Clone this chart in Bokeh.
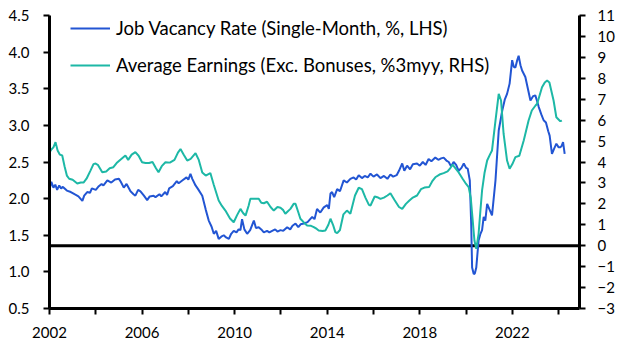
from bokeh.plotting import figure
from bokeh.models import (Range1d, LinearAxis, FixedTicker, NumeralTickFormatter,
                          Span, Legend, LegendItem, ColumnDataSource)
from bokeh.embed import file_html
from bokeh.resources import INLINE

# Job vacancy rate (single-month, %, LHS) — decimal years
vac_x = [2002.0, 2002.08, 2002.17, 2002.25, 2002.33, 2002.42, 2002.5, 2002.58, 2002.75, 2002.92,
         2003.08, 2003.25, 2003.42, 2003.5, 2003.63, 2003.75, 2003.83, 2004.0, 2004.13, 2004.25,
         2004.33, 2004.5, 2004.67, 2004.83, 2005.0, 2005.08, 2005.21, 2005.33, 2005.5, 2005.63,
         2005.71, 2005.83, 2005.93, 2006.08, 2006.22, 2006.33, 2006.5, 2006.58, 2006.75, 2006.83,
         2007.0, 2007.08, 2007.17, 2007.33, 2007.5, 2007.58, 2007.75, 2007.92, 2008.0, 2008.09,
         2008.17, 2008.31, 2008.42, 2008.6, 2008.75, 2008.88, 2009.0, 2009.1, 2009.2, 2009.31,
         2009.42, 2009.53, 2009.63, 2009.75, 2009.85, 2009.96, 2010.08, 2010.17, 2010.25, 2010.32,
         2010.42, 2010.54, 2010.67, 2010.83, 2010.92, 2011.04, 2011.15, 2011.26, 2011.4, 2011.5,
         2011.62, 2011.75, 2011.85, 2011.98, 2012.1, 2012.27, 2012.4, 2012.5, 2012.63, 2012.75,
         2012.85, 2012.99, 2013.15, 2013.35, 2013.45, 2013.56, 2013.7, 2013.85, 2014.0, 2014.07,
         2014.14, 2014.21, 2014.3, 2014.43, 2014.55, 2014.71, 2014.85, 2015.0, 2015.14, 2015.25,
         2015.36, 2015.5, 2015.62, 2015.75, 2015.87, 2016.0, 2016.15, 2016.3, 2016.45, 2016.6,
         2016.73, 2016.85, 2017.0, 2017.1, 2017.24, 2017.33, 2017.45, 2017.58, 2017.7, 2017.88,
         2018.0, 2018.13, 2018.25, 2018.38, 2018.5, 2018.67, 2018.8, 2018.92, 2019.03, 2019.15,
         2019.25, 2019.35, 2019.46, 2019.57, 2019.68, 2019.8, 2019.9, 2020.0, 2020.07, 2020.16,
         2020.22, 2020.26, 2020.33, 2020.38, 2020.44, 2020.54, 2020.62, 2020.69, 2020.76, 2020.83,
         2020.91, 2021.0, 2021.12, 2021.27, 2021.41, 2021.56, 2021.67, 2021.77, 2021.88, 2021.99,
         2022.06, 2022.13, 2022.2, 2022.27, 2022.35, 2022.42, 2022.56, 2022.67, 2022.78, 2022.9,
         2022.99, 2023.07, 2023.14, 2023.25, 2023.35, 2023.45, 2023.55, 2023.61, 2023.71, 2023.8,
         2023.9, 2024.0, 2024.07, 2024.13, 2024.19, 2024.26]
vac_y = [2.12, 2.23, 2.15, 2.19, 2.12, 2.18, 2.14, 2.16, 2.11, 2.09,
         2.06, 2.03, 1.97, 2.04, 2.09, 2.08, 2.14, 2.12, 2.17, 2.20,
         2.18, 2.25, 2.22, 2.26, 2.27, 2.23, 2.15, 2.20, 2.10, 2.06,
         2.04, 2.12, 2.10, 2.04, 1.98, 2.03, 2.04, 2.02, 2.06, 2.03,
         2.09, 2.05, 2.14, 2.17, 2.24, 2.21, 2.25, 2.29, 2.26, 2.34,
         2.27, 2.18, 2.13, 2.04, 1.85, 1.70, 1.62, 1.52, 1.56, 1.45,
         1.48, 1.50, 1.47, 1.45, 1.52, 1.56, 1.54, 1.58, 1.57, 1.72,
         1.58, 1.52, 1.57, 1.70, 1.60, 1.61, 1.58, 1.54, 1.56, 1.54,
         1.56, 1.58, 1.55, 1.57, 1.56, 1.61, 1.58, 1.63, 1.66, 1.61,
         1.65, 1.66, 1.68, 1.75, 1.72, 1.86, 1.81, 1.88, 1.91, 1.86,
         2.07, 2.09, 2.02, 2.13, 2.10, 2.25, 2.22, 2.27, 2.29, 2.26,
         2.32, 2.28, 2.31, 2.29, 2.34, 2.30, 2.33, 2.28, 2.31, 2.27,
         2.33, 2.30, 2.32, 2.38, 2.48, 2.38, 2.45, 2.40, 2.47, 2.48,
         2.45, 2.50, 2.46, 2.54, 2.51, 2.56, 2.53, 2.55, 2.56, 2.52,
         2.50, 2.44, 2.50, 2.46, 2.38, 2.42, 2.48, 2.42, 2.41, 2.25,
         1.66, 1.06, 0.97, 0.98, 1.06, 1.43, 1.52, 1.57, 1.75, 1.70,
         1.93, 1.86, 1.77, 2.25, 2.93, 3.20, 3.35, 3.43, 3.57, 3.89,
         3.80, 3.79, 3.88, 3.95, 3.82, 3.75, 3.66, 3.50, 3.34, 3.40,
         3.41, 3.33, 3.25, 3.15, 3.07, 3.04, 2.92, 2.86, 2.61, 2.68,
         2.75, 2.70, 2.70, 2.72, 2.77, 2.61]

# Average earnings (exc. bonuses, %3myy, RHS)
earn_x = [2002.0, 2002.08, 2002.17, 2002.26, 2002.35, 2002.45, 2002.55, 2002.65, 2002.75, 2002.85,
          2003.0, 2003.2, 2003.35, 2003.47, 2003.6, 2003.77, 2003.9, 2003.99, 2004.1, 2004.28,
          2004.45, 2004.6, 2004.76, 2004.9, 2005.05, 2005.28, 2005.4, 2005.55, 2005.71, 2005.85,
          2006.0, 2006.15, 2006.3, 2006.45, 2006.6, 2006.71, 2006.85, 2007.01, 2007.2, 2007.4,
          2007.55, 2007.66, 2007.8, 2007.95, 2008.1, 2008.31, 2008.45, 2008.6, 2008.75, 2008.95,
          2009.1, 2009.31, 2009.45, 2009.6, 2009.8, 2009.96, 2010.1, 2010.25, 2010.37, 2010.47,
          2010.6, 2010.68, 2010.85, 2011.04, 2011.15, 2011.26, 2011.4, 2011.55, 2011.69, 2011.85,
          2011.98, 2012.1, 2012.19, 2012.3, 2012.41, 2012.55, 2012.63, 2012.75, 2012.84, 2013.0,
          2013.13, 2013.3, 2013.42, 2013.55, 2013.63, 2013.8, 2013.92, 2014.05, 2014.14, 2014.25,
          2014.35, 2014.43, 2014.55, 2014.7, 2014.85, 2015.0, 2015.2, 2015.36, 2015.5, 2015.65,
          2015.8, 2015.87, 2016.05, 2016.2, 2016.3, 2016.45, 2016.6, 2016.73, 2016.9, 2017.1,
          2017.24, 2017.4, 2017.55, 2017.7, 2017.88, 2018.05, 2018.2, 2018.4, 2018.55, 2018.67,
          2018.85, 2019.03, 2019.2, 2019.3, 2019.42, 2019.5, 2019.68, 2019.85, 2020.0, 2020.11,
          2020.2, 2020.26, 2020.36, 2020.44, 2020.54, 2020.62, 2020.69, 2020.8, 2020.91, 2021.05,
          2021.12, 2021.27, 2021.41, 2021.51, 2021.62, 2021.77, 2021.88, 2022.0, 2022.13, 2022.3,
          2022.49, 2022.7, 2022.84, 2023.0, 2023.07, 2023.28, 2023.4, 2023.5, 2023.6, 2023.78,
          2023.9, 2024.07, 2024.14]
earn_y = [4.45, 4.6, 4.7, 4.95, 4.55, 4.35, 4.31, 3.8, 3.35, 3.2,
          3.15, 2.97, 3.02, 3.02, 3.2, 3.59, 3.9, 3.93, 3.85, 3.51,
          3.55, 3.7, 3.75, 3.95, 4.1, 4.31, 4.1, 4.35, 4.47, 4.3,
          3.99, 3.95, 3.95, 4.0, 3.7, 3.51, 3.8, 3.99, 3.97, 4.1,
          4.45, 4.62, 4.35, 4.07, 4.15, 4.42, 4.1, 3.5, 3.35, 3.47,
          2.9, 2.16, 1.9, 1.68, 1.3, 1.12, 1.45, 1.76, 1.55, 1.44,
          1.9, 2.24, 2.24, 2.24, 2.05, 2.03, 2.1, 1.85, 1.68, 1.85,
          1.81, 1.7, 1.53, 1.65, 1.76, 2.0, 2.0, 1.6, 1.29, 1.1,
          0.97, 0.95, 0.89, 0.8, 0.73, 0.7, 0.73, 1.0, 1.29, 1.0,
          0.65, 0.6, 0.75, 1.5, 1.68, 1.53, 2.4, 2.77, 2.7, 2.3,
          1.95, 1.92, 2.35, 2.3, 2.24, 2.3, 2.4, 2.51, 2.2, 1.85,
          1.76, 2.0, 2.16, 2.3, 2.4, 2.7, 2.78, 2.8, 3.1, 3.27,
          3.4, 3.47, 3.55, 3.68, 3.88, 3.75, 3.5, 3.2, 2.95, 2.8,
          2.3, 1.53, 0.25, -0.15, 0.57, 1.7, 2.64, 3.5, 4.07, 4.4,
          4.55, 5.98, 7.26, 6.94, 5.35, 4.07, 3.68, 3.9, 4.23, 4.3,
          5.03, 5.98, 6.46, 6.7, 6.78, 7.57, 7.8, 7.89, 7.8, 6.94,
          6.14, 5.95, 5.98]

x_ticks = [2002, 2006, 2010, 2014, 2018, 2022]
x_minor = [2004, 2008, 2012, 2016, 2020, 2024]
lhs_ticks = [0.5, 1.0, 1.5, 2.0, 2.5, 3.0, 3.5, 4.0, 4.5]
rhs_ticks = list(range(-3, 12))

BLUE = "#2255D3"
TEAL = "#1DB8A6"
FONT = "Lato"

p = figure(width=627, height=352, output_backend="svg", toolbar_location=None,
           x_range=Range1d(2002, 2024.9), y_range=Range1d(0.5, 4.5),
           min_border_left=49, min_border_right=48, min_border_top=15, min_border_bottom=44)
p.extra_y_ranges = {"rhs": Range1d(-3, 11)}
p.outline_line_color = None
p.grid.visible = False
p.background_fill_color = "white"

def style_axis(ax):
    ax.axis_line_width = 3
    ax.axis_line_color = "black"
    ax.major_tick_line_width = 2
    ax.major_tick_line_color = "black"
    ax.major_tick_in = 0
    ax.major_tick_out = 6
    ax.minor_tick_line_width = 2
    ax.minor_tick_line_color = "black"
    ax.minor_tick_in = 0
    ax.minor_tick_out = 6
    ax.major_label_text_font = FONT
    ax.major_label_text_font_size = "15px"
    ax.major_label_text_color = "black"

xa = p.xaxis[0]
xa.ticker = FixedTicker(ticks=x_ticks, minor_ticks=x_minor)
style_axis(xa)
xa.major_label_standoff = 12

ya = p.yaxis[0]
ya.ticker = FixedTicker(ticks=lhs_ticks)
ya.formatter = NumeralTickFormatter(format="0.0")
style_axis(ya)
ya.major_label_standoff = 14

ra = LinearAxis(y_range_name="rhs", ticker=FixedTicker(ticks=rhs_ticks))
style_axis(ra)
ra.major_label_standoff = 12
p.add_layout(ra, "right")

zero = Span(location=0, dimension="width", y_range_name="rhs",
            line_color="black", line_width=3, level="underlay")
p.add_layout(zero)

vac_src = ColumnDataSource(dict(x=vac_x, y=vac_y))
earn_src = ColumnDataSource(dict(x=earn_x, y=earn_y))
r1 = p.line("x", "y", source=vac_src, line_color=BLUE, line_width=2)
r2 = p.line("x", "y", source=earn_src, line_color=TEAL, line_width=2, y_range_name="rhs")

legend = Legend(items=[
    LegendItem(label="Job Vacancy Rate (Single-Month, %, LHS)", renderers=[r1]),
    LegendItem(label="Average Earnings (Exc. Bonuses, %3myy, RHS)", renderers=[r2]),
], location=(21, 232))
legend.background_fill_alpha = 0
legend.border_line_color = None
legend.label_text_font = FONT
legend.label_text_font_size = "18.5px"
legend.label_text_color = "black"
legend.glyph_width = 40
legend.glyph_height = 22
legend.label_height = 22
legend.spacing = 15
legend.padding = 0
legend.margin = 0
legend.label_standoff = 6
p.add_layout(legend)

open("out.html", "w").write(file_html(p, INLINE))
